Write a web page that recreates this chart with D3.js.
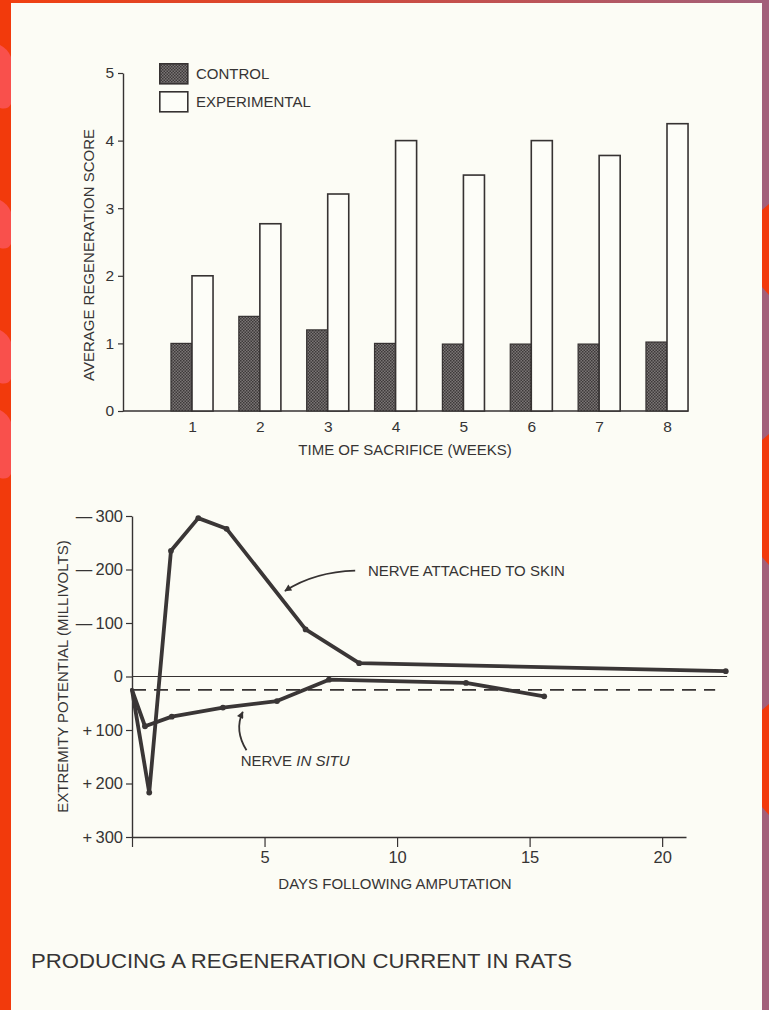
<!DOCTYPE html>
<html><head><meta charset="utf-8">
<script src="https://cdn.jsdelivr.net/npm/d3@7"></script>
<style>
html,body{margin:0;padding:0;background:#fcfcf5;}
svg{display:block;}
text{font-family:"Liberation Sans",Arial,Helvetica,sans-serif;fill:#363434;}
</style></head>
<body>
<svg id="c" width="769" height="1010"></svg>
<script>
// ---------- DATA ----------
const weeks = ["1","2","3","4","5","6","7","8"];
const controlScores = [1.0, 1.4, 1.2, 1.0, 0.99, 0.99, 0.99, 1.02];
const experimentalScores = [2.0, 2.77, 3.21, 4.0, 3.49, 4.0, 3.78, 4.25];
const scoreTicks = [0, 1, 2, 3, 4, 5];
const legendLabels = ["CONTROL", "EXPERIMENTAL"];

const skinDays =    [0,  0.65, 1.47, 2.5,  3.57, 6.55, 8.57, 22.4];
const skinMv =      [25, 217,  -235, -296, -276, -88,  -25,  -10];
const situDays =    [0,  0.49, 1.5, 3.43, 5.47, 7.43, 12.6, 15.55];
const situMv =      [25, 93,   75,  58,   46,   6,    12,   37];
const baselineMv = 25;          // dashed reference level
const mvTicks = [-300, -200, -100, 0, 100, 200, 300];
const dayTicks = [0, 5, 10, 15, 20];

const title = "PRODUCING A REGENERATION CURRENT IN RATS";

// ---------- SETUP ----------
const svg = d3.select("#c");
const ink = "#363232";
const FS = 15;

// frame
const defs = svg.append("defs");
const g1 = defs.append("linearGradient").attr("id","topg").attr("x1","0").attr("x2","1");
g1.append("stop").attr("offset","0").attr("stop-color","#f2400f");
g1.append("stop").attr("offset","0.45").attr("stop-color","#d04a3c");
g1.append("stop").attr("offset","1").attr("stop-color","#a2607a");
svg.append("rect").attr("x",0).attr("y",0).attr("width",769).attr("height",1010).attr("fill","#fcfcf5");
svg.append("rect").attr("x",0).attr("y",0).attr("width",769).attr("height",3).attr("fill","url(#topg)");
svg.append("rect").attr("x",0).attr("y",0).attr("width",11).attr("height",1010).attr("fill","#f23a0c");
[[45,110],[200,250],[330,385],[410,480]].forEach(([a,b])=>{
  svg.append("path").attr("d",`M0,${a} Q8,${a+4} 11,${a+12} L11,${b-6} Q8,${b} 0,${b-2} Z`).attr("fill","#f9504c");
});
svg.append("rect").attr("x",762).attr("y",0).attr("width",7).attr("height",1010).attr("fill","#a2607a");
[[210,295],[440,565],[710,815]].forEach(([a,b])=>{
  svg.append("path").attr("d",`M762,${a} L769,${a-6} L769,${b} L762,${b-8} Z`).attr("fill","#f23a0c");
});

// pattern for control bars
const pat = defs.append("pattern").attr("id","hatch").attr("patternUnits","userSpaceOnUse")
  .attr("width",3).attr("height",3);
pat.append("rect").attr("width",3).attr("height",3).attr("fill","#7a7575");
pat.append("rect").attr("width",1.5).attr("height",1.5).attr("fill","#3e3a3a");
pat.append("rect").attr("x",1.5).attr("y",1.5).attr("width",1.5).attr("height",1.5).attr("fill","#3e3a3a");

function styleAxis(ax, fs){
  ax.select(".domain").attr("stroke",ink).attr("stroke-width",1.4);
  ax.selectAll(".tick line").attr("stroke",ink).attr("stroke-width",1.2);
  ax.selectAll(".tick text").attr("font-size",fs).attr("fill","#363434")
    .attr("font-family","Liberation Sans, Arial, sans-serif");
}

// ---------- BAR CHART ----------
const yS = d3.scaleLinear().domain([0,5]).range([411,73]);
const xP = d3.scalePoint().domain(weeks).range([192,667]);
const barW = xP.step()*0.31;

const yAx = svg.append("g").attr("transform","translate(123,0)")
  .call(d3.axisLeft(yS).tickValues(scoreTicks).tickFormat(d3.format("d")).tickSize(5).tickSizeOuter(0).tickPadding(4));
styleAxis(yAx, 15.5);

// baseline
svg.append("line").attr("x1",123).attr("x2",688).attr("y1",yS(0)).attr("y2",yS(0))
  .attr("stroke",ink).attr("stroke-width",1.4);
const xAx = svg.append("g").attr("transform",`translate(0,${yS(0)})`)
  .call(d3.axisBottom(xP).tickSize(0).tickPadding(10));
xAx.select(".domain").remove();
styleAxis(xAx, 15.5);

svg.append("g").selectAll("rect").data(controlScores).join("rect")
  .attr("x",(d,i)=>xP(weeks[i])-barW).attr("width",barW)
  .attr("y",d=>yS(d)).attr("height",d=>yS(0)-yS(d))
  .attr("fill","url(#hatch)").attr("stroke",ink).attr("stroke-width",1.2);
svg.append("g").selectAll("rect").data(experimentalScores).join("rect")
  .attr("x",(d,i)=>xP(weeks[i])).attr("width",barW)
  .attr("y",d=>yS(d)).attr("height",d=>yS(0)-yS(d))
  .attr("fill","#fdfdf8").attr("stroke",ink).attr("stroke-width",1.6);

// legend
const lg = svg.append("g").attr("transform","translate(159,63)");
legendLabels.forEach((t,i)=>{
  lg.append("rect").attr("x",0.8).attr("y",i*28+0.8).attr("width",28).attr("height",20)
    .attr("fill", i===0 ? "url(#hatch)" : "#fdfdf8").attr("stroke",ink).attr("stroke-width",1.6);
  lg.append("text").attr("x",37).attr("y",i*27.5+16).attr("font-size",FS).text(t);
});

svg.append("text").attr("transform","translate(94,255) rotate(-90)")
  .attr("text-anchor","middle").attr("font-size",FS).text("AVERAGE REGENERATION SCORE");
svg.append("text").attr("x",405).attr("y",455).attr("text-anchor","middle")
  .attr("font-size",FS).text("TIME OF SACRIFICE (WEEKS)");

// ---------- LINE CHART ----------
const x = d3.scaleLinear().domain([0,20.9]).range([132,686]);
const y = d3.scaleLinear().domain([-300,300]).range([516,837]);
const fmt = v => v < 0 ? "\u2014\u2009" + Math.abs(v) : (v > 0 ? "+\u2009" + v : "0");

const ly = svg.append("g").attr("transform",`translate(${x(0)},0)`)
  .call(d3.axisLeft(y).tickValues(mvTicks).tickFormat(fmt).tickSize(6).tickSizeOuter(0).tickPadding(3));
styleAxis(ly, 16.5);

const lx = svg.append("g").attr("transform",`translate(0,${y(300)})`)
  .call(d3.axisBottom(x).tickValues(dayTicks).tickFormat(d=>d===0?"":d).tickSize(10).tickSizeOuter(0).tickPadding(4));
styleAxis(lx, 16.5);

// zero line & dashed baseline
svg.append("line").attr("x1",x(0)).attr("x2",x(22.45)).attr("y1",y(0)).attr("y2",y(0))
  .attr("stroke",ink).attr("stroke-width",1.2);
svg.append("line").attr("x1",x(0)).attr("x2",x(22.0)).attr("y1",y(baselineMv)).attr("y2",y(baselineMv))
  .attr("stroke",ink).attr("stroke-width",1.8).attr("stroke-dasharray","14,8");

const line = d3.line().x(d=>x(d[0])).y(d=>y(d[1]));
const skin = skinDays.map((d,i)=>[d,skinMv[i]]);
const situ = situDays.map((d,i)=>[d,situMv[i]]);
[skin, situ].forEach(s=>{
  svg.append("path").datum(s).attr("d",line).attr("fill","none").attr("stroke","#3a3636")
    .attr("stroke-width",3.8).attr("stroke-linejoin","round").attr("stroke-linecap","round");
  svg.append("g").selectAll("circle").data(s.slice(1)).join("circle")
    .attr("cx",d=>x(d[0])).attr("cy",d=>y(d[1])).attr("r",2.9).attr("fill","#3a3636");
});

// annotations
defs.append("marker").attr("id","ah").attr("viewBox","0 0 10 10").attr("refX",9).attr("refY",5)
  .attr("markerWidth",9).attr("markerHeight",7).attr("markerUnits","userSpaceOnUse").attr("orient","auto")
  .append("path").attr("d","M0,0 L10,5 L0,10 Z").attr("fill","#363232");
svg.append("path")
  .attr("d",`M${x(8.42)},${y(-198)} Q${x(6.9)},${y(-196)} ${x(5.77)},${y(-160)}`)
  .attr("fill","none").attr("stroke",ink).attr("stroke-width",1.8).attr("marker-end","url(#ah)");
svg.append("text").attr("x",x(8.9)).attr("y",y(-187)).attr("font-size",FS).text("NERVE ATTACHED TO SKIN");

svg.append("path")
  .attr("d",`M${x(4.32)},${y(138)} Q${x(3.85)},${y(100)} ${x(4.18)},${y(66)}`)
  .attr("fill","none").attr("stroke",ink).attr("stroke-width",1.8).attr("marker-end","url(#ah)");
const st = svg.append("text").attr("x",x(4.1)).attr("y",y(168)).attr("font-size",FS);
st.append("tspan").text("NERVE ");
st.append("tspan").attr("font-style","italic").text("IN SITU");

svg.append("text").attr("transform",`translate(68,${y(0)}) rotate(-90)`)
  .attr("text-anchor","middle").attr("font-size",FS).text("EXTREMITY POTENTIAL (MILLIVOLTS)");
svg.append("text").attr("x",395).attr("y",889).attr("text-anchor","middle")
  .attr("font-size",FS).text("DAYS FOLLOWING AMPUTATION");

// title
svg.append("text").attr("x",31).attr("y",968).attr("font-size",20.5).attr("fill","#2e2e2e")
  .attr("textLength",541).attr("lengthAdjust","spacingAndGlyphs")
  .text(title);
</script>
</body></html>
